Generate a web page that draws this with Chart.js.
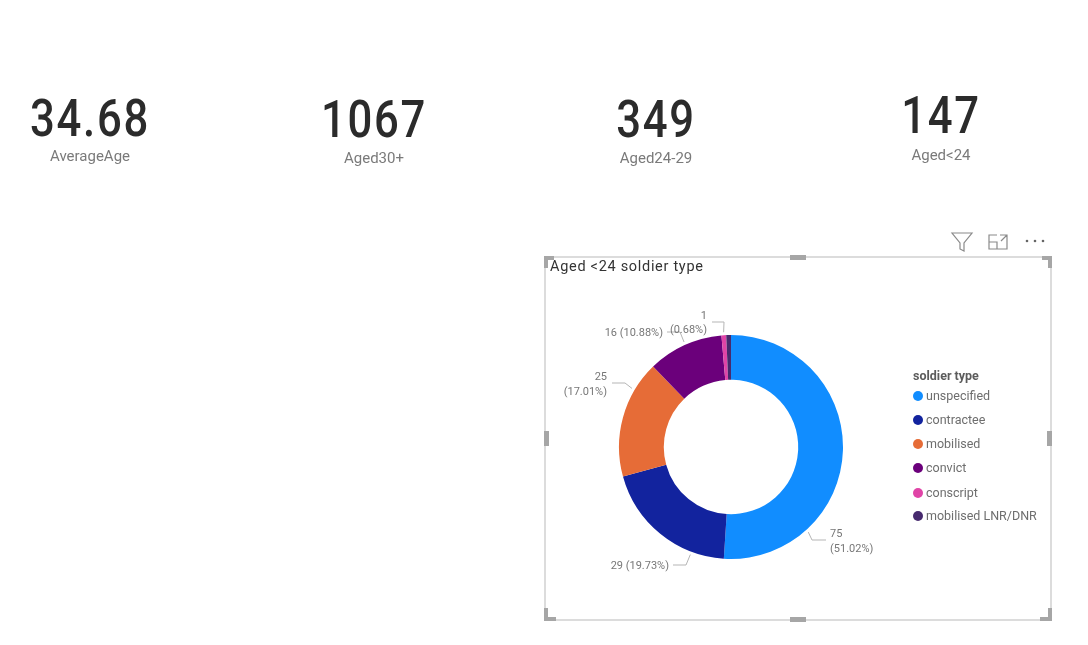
<!DOCTYPE html>
<html>
<head>
<meta charset="utf-8">
<title>Aged &lt;24 soldier type</title>
<script src="https://cdn.jsdelivr.net/npm/chart.js@4"></script>
<style>
  html, body { margin: 0; padding: 0; background: #fff; }
  body { width: 1088px; height: 645px; position: relative; overflow: hidden; font-family: Roboto, sans-serif; }
  canvas { position: absolute; left: 0; top: 0; }
  .kpi-num, .kpi-lbl, .leg, .titulo { position: absolute; white-space: nowrap; }
  .kpi-num { font-size: 52px; line-height: 52px; font-weight: 500; color: #2b2b2b; transform: translateX(-50%) scaleX(.84); letter-spacing: 2px; }
  .kpi-lbl { font-size: 15px; line-height: 18px; color: #7a7a7a; transform: translateX(-50%); }
  .marco { position: absolute; left: 544px; top: 256px; width: 504px; height: 361px; border: 2px solid #dcdcdc; box-sizing: content-box; }
  .asa { position: absolute; background: #a6a6a6; }
  .titulo { left: 550px; top: 258px; font-size: 14.5px; line-height: 17px; letter-spacing: .7px; color: #333; }
  .leg { font-size: 12.5px; line-height: 16px; color: #6e6e6e; letter-spacing: 0; }
  .leg.head { font-weight: 700; color: #5c5c5c; font-size: 12.5px; }
  .punto { position: absolute; width: 10px; height: 10px; border-radius: 50%; }
  svg { position: absolute; left: 0; top: 0; }
</style>
</head>
<body>
<canvas id="grafico" width="1088" height="645"></canvas>
<div class="marco"></div>
<div class="titulo">Aged &lt;24 soldier type</div>
<svg width="1088" height="645" fill="none" stroke="#8a8a8a" stroke-width="1.2">
  <path d="M952 233h20l-8 10v8l-4-2v-6z"/>
  <path d="M997 235h-8v14h18v-8M989 242h8v7M1000 235h7v7M1007 235l-6 6"/>
  <g fill="#666" stroke="none"><circle cx="1027" cy="241" r="1.3"/><circle cx="1035" cy="241" r="1.3"/><circle cx="1043" cy="241" r="1.3"/></g>
</svg>
<script>
// Tarjetas de arriba
const kpiValores = ["34.68", "1067", "349", "147"];
const kpiNombres = ["AverageAge", "Aged30+", "Aged24-29", "Aged<24"];

// Donut
const tipos = ["unspecified", "contractee", "mobilised", "convict", "conscript", "mobilised LNR/DNR"];
const cantidades = [75, 29, 25, 16, 1, 1];
const colores = ["#118DFF", "#12239E", "#E66C37", "#6B007B", "#E044A7", "#472A6E"];
const tituloLeyenda = "soldier type";

const total = cantidades.reduce((a, b) => a + b, 0);

// Tarjetas
const kpiX = [90, 374, 656, 941];
const kpiNumY = [93, 94, 94, 90];
const kpiLblY = [147, 149, 149, 146];
kpiValores.forEach((v, i) => {
  const n = document.createElement("div");
  n.className = "kpi-num";
  n.textContent = v;
  n.style.left = kpiX[i] + "px";
  n.style.top = kpiNumY[i] + "px";
  document.body.appendChild(n);
  const l = document.createElement("div");
  l.className = "kpi-lbl";
  l.textContent = kpiNombres[i];
  l.style.left = kpiX[i] + "px";
  l.style.top = kpiLblY[i] + "px";
  document.body.appendChild(l);
});

// Asas del marco
[[544, 256, 10, 4], [544, 256, 4, 12], [1042, 256, 10, 4], [1048, 256, 4, 12],
 [790, 255, 16, 5], [790, 617, 16, 5],
 [544, 431, 5, 15], [1047, 431, 5, 15],
 [544, 608, 4, 13], [544, 617, 12, 4], [1048, 608, 4, 13], [1040, 617, 12, 4]].forEach(a => {
  const d = document.createElement("div");
  d.className = "asa";
  d.style.cssText = `left:${a[0]}px;top:${a[1]}px;width:${a[2]}px;height:${a[3]}px`;
  document.body.appendChild(d);
});

// Leyenda
const head = document.createElement("div");
head.className = "leg head";
head.textContent = tituloLeyenda;
head.style.left = "913px";
head.style.top = "368px";
document.body.appendChild(head);
const legY = [396, 420, 444, 468, 493, 516];
tipos.forEach((t, i) => {
  const p = document.createElement("div");
  p.className = "punto";
  p.style.cssText = `left:913px;top:${legY[i] - 5}px;background:${colores[i]}`;
  document.body.appendChild(p);
  const d = document.createElement("div");
  d.className = "leg";
  d.textContent = t;
  d.style.left = "926px";
  d.style.top = legY[i] - 8 + "px";
  document.body.appendChild(d);
});

// Donde va cada etiqueta: frac = punto del arco, codo = quiebre de la guia
const etiquetas = [
  { frac: .75, codo: [[812, 540], [826, 540]], lineas: [[0, 830, 534, "left"], [1, 830, 549, "left"]] },
  { frac: .24, codo: [[686, 565], [673, 565]], lineas: [[2, 669, 566, "right"]] },
  { frac: .75, codo: [[625, 383], [612, 383]], lineas: [[0, 607, 377, "right"], [1, 607, 392, "right"]] },
  { frac: .51, codo: [[680, 332], [667, 332]], lineas: [[2, 663, 333, "right"]] },
  { frac: .5, codo: [[724, 322], [712, 322]], lineas: [[0, 707, 316, "right"], [1, 707, 330, "right"]] },
  null
];

const pluginEtiquetas = {
  id: "etiquetas",
  afterDatasetsDraw(chart) {
    const ctx = chart.ctx;
    const arcos = chart.getDatasetMeta(0).data;
    ctx.save();
    ctx.font = "11px Roboto, sans-serif";
    ctx.textBaseline = "middle";
    etiquetas.forEach((e, i) => {
      if (!e) return;
      const a = arcos[i];
      const ang = a.startAngle + e.frac * (a.endAngle - a.startAngle);
      const r = a.outerRadius + 3;
      ctx.strokeStyle = "#b5b5b5";
      ctx.lineWidth = 1;
      ctx.beginPath();
      ctx.moveTo(a.x + Math.cos(ang) * r, a.y + Math.sin(ang) * r);
      e.codo.forEach(p => ctx.lineTo(p[0], p[1]));
      ctx.stroke();

      const pct = (cantidades[i] / total * 100).toFixed(2) + "%";
      const textos = [String(cantidades[i]), "(" + pct + ")", cantidades[i] + " (" + pct + ")"];
      ctx.fillStyle = "#777";
      e.lineas.forEach(l => {
        ctx.textAlign = l[3];
        ctx.fillText(textos[l[0]], l[1], l[2]);
      });
    });
    ctx.restore();
  }
};

new Chart(document.getElementById("grafico").getContext("2d"), {
  type: "doughnut",
  data: {
    labels: tipos,
    datasets: [{ data: cantidades, backgroundColor: colores, borderWidth: 0 }]
  },
  options: {
    responsive: false,
    animation: false,
    cutout: "60%",
    layout: { padding: { left: 619, right: 245, top: 335, bottom: 86 } },
    plugins: { legend: { display: false }, tooltip: { enabled: false } }
  },
  plugins: [pluginEtiquetas]
});
</script>
</body>
</html>
